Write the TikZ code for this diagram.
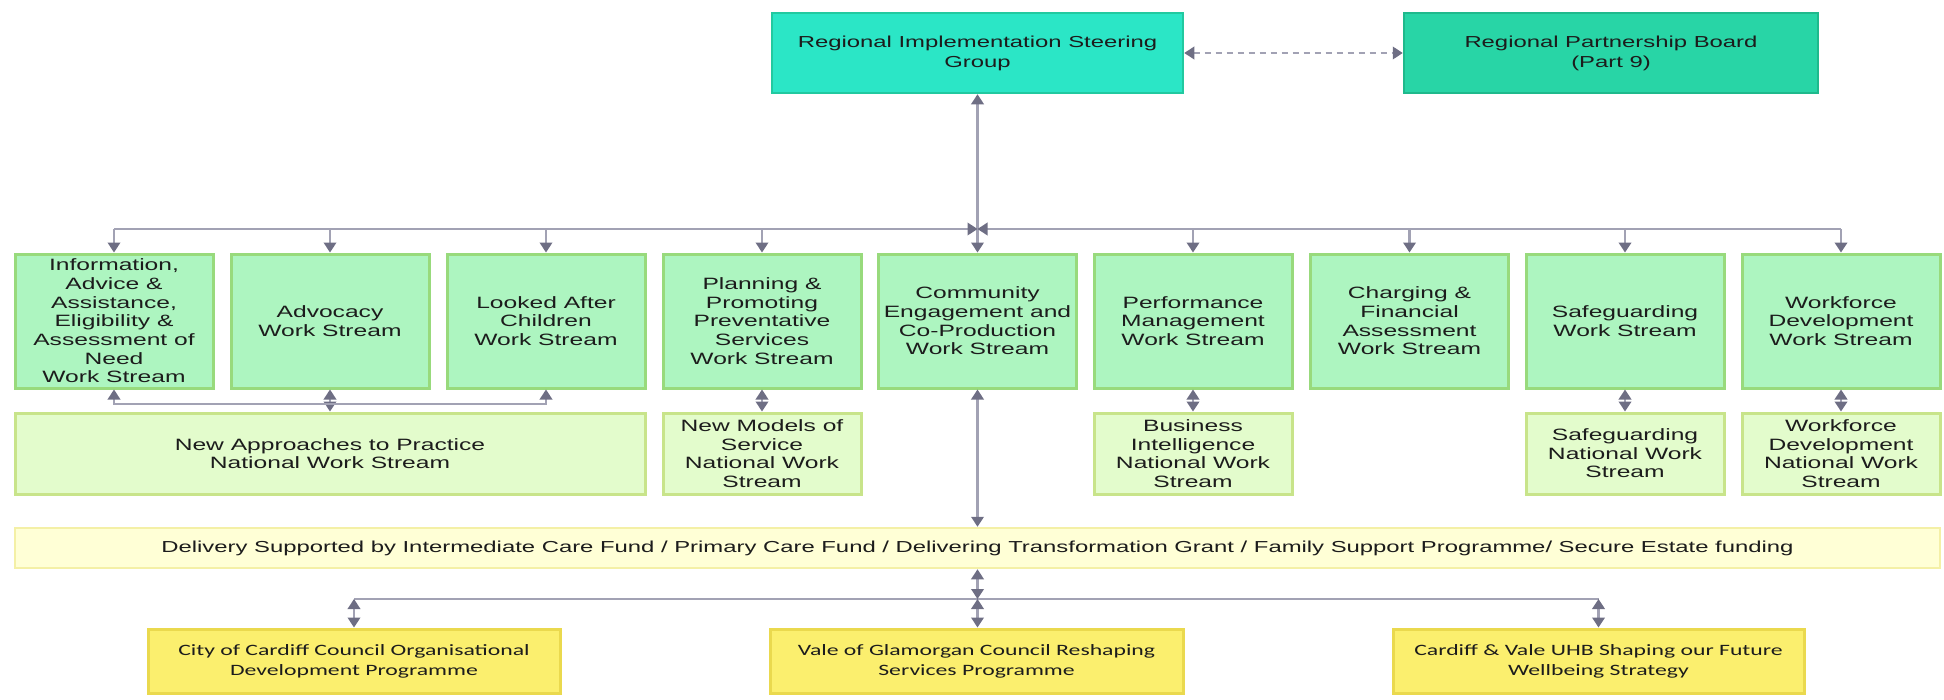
\documentclass[tikz,border=0pt]{standalone}
\usepackage{fontspec}
\usetikzlibrary{arrows.meta}
\newfontfamily\arialw[FakeStretch=1.5]{Liberation Sans}
\newfontfamily\calw[FakeStretch=1.5]{Carlito}
\definecolor{topf}{HTML}{2BE6C6}
\definecolor{topb}{HTML}{22C9A0}
\definecolor{rpbf}{HTML}{28D5A6}
\definecolor{rpbb}{HTML}{1FB98C}
\definecolor{wsf}{HTML}{ADF5C0}
\definecolor{wsb}{HTML}{98DA7C}
\definecolor{natf}{HTML}{E3FCCC}
\definecolor{natb}{HTML}{C8E48A}
\definecolor{delf}{HTML}{FFFFD6}
\definecolor{delb}{HTML}{F4F0A6}
\definecolor{yelf}{HTML}{FBEF6E}
\definecolor{yelb}{HTML}{EAD94E}
\definecolor{linec}{HTML}{A2A2B4}
\definecolor{tipc}{HTML}{6E6E84}
\definecolor{textc}{HTML}{1C1C1C}
\tikzset{
  conn/.style={draw=linec, line width=2.2pt},
  arr/.style={conn, -{Triangle[length=10pt,width=12.5pt,color=tipc]}},
  darr/.style={conn, {Triangle[length=10pt,width=12.5pt,color=tipc]}-{Triangle[length=10pt,width=12.5pt,color=tipc]}},
  topbox/.style={draw=topb, fill=topf, line width=2.5pt, minimum width=411pt, minimum height=80pt, inner sep=0pt, align=center, text=textc, font=\arialw\fontsize{15.9}{20}\selectfont},
  wsbox/.style={draw=wsb, fill=wsf, line width=3pt, minimum width=198pt, minimum height=134pt, inner sep=0pt, align=center, text=textc, font=\arialw\fontsize{16.4}{18.7}\selectfont},
  natbox/.style={draw=natb, fill=natf, line width=3pt, minimum width=198pt, minimum height=81pt, inner sep=0pt, align=center, text=textc, font=\arialw\fontsize{16.4}{18.5}\selectfont},
  delbox/.style={draw=delb, fill=delf, line width=2.5pt, minimum width=1925pt, minimum height=40pt, inner sep=0pt, align=center, text=textc, font=\arialw\fontsize{15.9}{18}\selectfont},
  yelbox/.style={draw=yelb, fill=yelf, line width=3pt, minimum width=412pt, minimum height=64pt, inner sep=0pt, align=center, text=textc, font=\calw\fontsize{15.8}{20}\selectfont}
}
\begin{document}
\begin{tikzpicture}[x=1pt,y=-1pt]
\useasboundingbox (0,0) rectangle (1944,699);
% top
\node[topbox] (risg) at (977.5,53) {Regional Implementation Steering\\Group};
\node[topbox, fill=rpbf, draw=rpbb, minimum width=414pt] (rpb) at (1611,53) {Regional Partnership Board\\(Part 9)};
% work streams
\node[wsbox] (ws1) at (114,321) {Information,\\Advice \&\\Assistance,\\Eligibility \&\\Assessment of\\Need\\Work Stream};
\node[wsbox] (ws2) at (330,321) {Advocacy\\Work Stream};
\node[wsbox] (ws3) at (546,321) {Looked After\\Children\\Work Stream};
\node[wsbox] (ws4) at (762,321) {Planning \&\\Promoting\\Preventative\\Services\\Work Stream};
\node[wsbox] (ws5) at (977.5,321) {Community\\Engagement and\\Co-Production\\Work Stream};
\node[wsbox] (ws6) at (1193,321) {Performance\\Management\\Work Stream};
\node[wsbox] (ws7) at (1409.5,321) {Charging \&\\Financial\\Assessment\\Work Stream};
\node[wsbox] (ws8) at (1625,321) {Safeguarding\\Work Stream};
\node[wsbox] (ws9) at (1841,321) {Workforce\\Development\\Work Stream};
% national
\node[natbox, minimum width=630pt] (na) at (330,453.5) {New Approaches to Practice\\National Work Stream};
\node[natbox] (nm) at (762,453.5) {New Models of\\Service\\National Work\\Stream};
\node[natbox] (bi) at (1193,453.5) {Business\\Intelligence\\National Work\\Stream};
\node[natbox] (sn) at (1625,453.5) {Safeguarding\\National Work\\Stream};
\node[natbox] (wn) at (1841,453.5) {Workforce\\Development\\National Work\\Stream};
% delivery
\node[delbox] (del) at (977.5,548) {Delivery Supported by Intermediate Care Fund / Primary Care Fund / Delivering Transformation Grant / Family Support Programme/ Secure Estate funding};
% yellow
\node[yelbox] (cc) at (354,661) {City of Cardiff Council Organisational\\Development Programme};
\node[yelbox, minimum width=413pt] (vg) at (976.5,661) {Vale of Glamorgan Council Reshaping\\Services Programme};
\node[yelbox, minimum width=411pt] (cv) at (1598.5,661) {Cardiff \& Vale UHB Shaping our Future\\Wellbeing Strategy};
% connectors top
\draw[darr, dash pattern=on 6pt off 5pt] (risg.east) -- (rpb.west);
\coordinate (bus) at (977.5,229);
\draw[darr] (risg.south) -- (ws5.north);
\draw[arr] (ws1.north |- bus) -- (bus);
\draw[arr] (ws9.north |- bus) -- (bus);
\foreach \i in {1,2,3,4,6,7,8,9} {
  \draw[arr] (ws\i.north |- bus) -- (ws\i.north);
}
% national links
\coordinate (nab) at (330,404);
\draw[darr] (ws2.south) -- (na.north);
\draw[arr] (nab) -| (ws1.south);
\draw[arr] (nab) -| (ws3.south);
\draw[darr] (ws4.south) -- (nm.north);
\draw[darr] (ws6.south) -- (bi.north);
\draw[darr] (ws8.south) -- (sn.north);
\draw[darr] (ws9.south) -- (wn.north);
% community to delivery
\draw[darr] (ws5.south) -- (del.north -| ws5.south);
% lower bus
\coordinate (bus2) at (977.5,599);
\draw[conn] (cc.north |- bus2) -- (cv.north |- bus2);
\draw[darr] (del.south -| bus2) -- (bus2);
\draw[darr] (bus2) -- (vg.north -| bus2);
\draw[darr] (cc.north |- bus2) -- (cc.north);
\draw[darr] (cv.north |- bus2) -- (cv.north);
\end{tikzpicture}
\end{document}
